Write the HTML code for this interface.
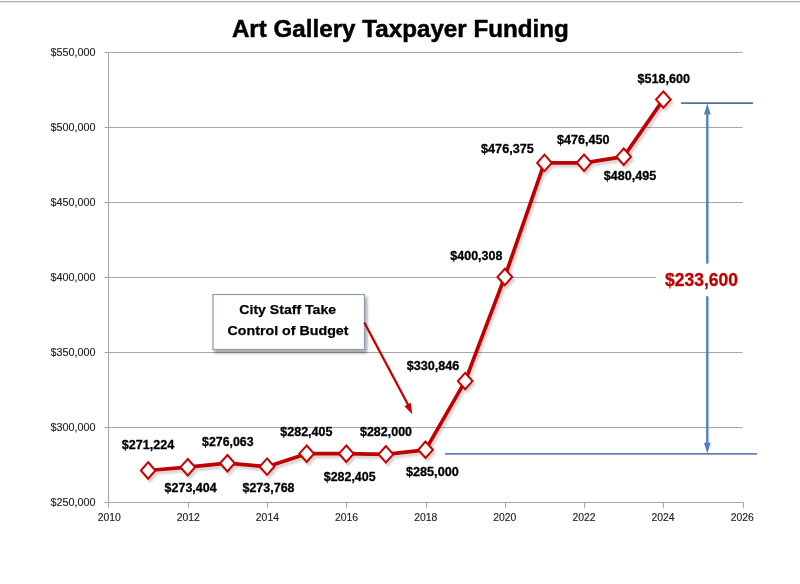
<!DOCTYPE html><html><head><meta charset="utf-8"><style>
html,body{margin:0;padding:0;background:#fff;width:800px;height:584px;overflow:hidden}
svg{display:block;font-family:"Liberation Sans",sans-serif}
</style></head><body>
<svg width="800" height="584" viewBox="0 0 800 584">
<defs><filter id="sh" x="-20%" y="-20%" width="140%" height="140%"><feGaussianBlur in="SourceAlpha" stdDeviation="1.3"/><feOffset dx="2" dy="2.5" result="b"/><feComponentTransfer><feFuncA type="linear" slope="0.17"/></feComponentTransfer><feMerge><feMergeNode/><feMergeNode in="SourceGraphic"/></feMerge></filter><filter id="bsh" x="-20%" y="-20%" width="140%" height="140%"><feGaussianBlur in="SourceAlpha" stdDeviation="1.5"/><feOffset dx="2" dy="2.5" result="b"/><feComponentTransfer><feFuncA type="linear" slope="0.38"/></feComponentTransfer><feMerge><feMergeNode/><feMergeNode in="SourceGraphic"/></feMerge></filter></defs>
<rect x="0" y="0" width="800" height="3" fill="#fff"/>
<rect x="0" y="1" width="800" height="1" fill="#b2b2b2"/><rect x="0" y="2" width="800" height="1" fill="#ececec"/>
<line x1="104.5" y1="502.5" x2="742.6" y2="502.5" stroke="#a6a6a6" stroke-width="1"/>
<text x="50.6" y="506.3" font-size="10.7" fill="#1e1e1e" stroke="#1e1e1e" stroke-width="0.15" opacity="0.995" textLength="44.9" lengthAdjust="spacingAndGlyphs">$250,000</text>
<line x1="104.5" y1="427.5" x2="742.6" y2="427.5" stroke="#a6a6a6" stroke-width="1"/>
<text x="50.6" y="431.3" font-size="10.7" fill="#1e1e1e" stroke="#1e1e1e" stroke-width="0.15" opacity="0.995" textLength="44.9" lengthAdjust="spacingAndGlyphs">$300,000</text>
<line x1="104.5" y1="352.5" x2="742.6" y2="352.5" stroke="#a6a6a6" stroke-width="1"/>
<text x="50.6" y="356.3" font-size="10.7" fill="#1e1e1e" stroke="#1e1e1e" stroke-width="0.15" opacity="0.995" textLength="44.9" lengthAdjust="spacingAndGlyphs">$350,000</text>
<line x1="104.5" y1="277.5" x2="742.6" y2="277.5" stroke="#a6a6a6" stroke-width="1"/>
<text x="50.6" y="281.3" font-size="10.7" fill="#1e1e1e" stroke="#1e1e1e" stroke-width="0.15" opacity="0.995" textLength="44.9" lengthAdjust="spacingAndGlyphs">$400,000</text>
<line x1="104.5" y1="202.5" x2="742.6" y2="202.5" stroke="#a6a6a6" stroke-width="1"/>
<text x="50.6" y="206.3" font-size="10.7" fill="#1e1e1e" stroke="#1e1e1e" stroke-width="0.15" opacity="0.995" textLength="44.9" lengthAdjust="spacingAndGlyphs">$450,000</text>
<line x1="104.5" y1="127.5" x2="742.6" y2="127.5" stroke="#a6a6a6" stroke-width="1"/>
<text x="50.6" y="131.3" font-size="10.7" fill="#1e1e1e" stroke="#1e1e1e" stroke-width="0.15" opacity="0.995" textLength="44.9" lengthAdjust="spacingAndGlyphs">$500,000</text>
<line x1="104.5" y1="52.5" x2="742.6" y2="52.5" stroke="#a6a6a6" stroke-width="1"/>
<text x="50.6" y="56.3" font-size="10.7" fill="#1e1e1e" stroke="#1e1e1e" stroke-width="0.15" opacity="0.995" textLength="44.9" lengthAdjust="spacingAndGlyphs">$550,000</text>
<line x1="108.5" y1="52.5" x2="108.5" y2="505.8" stroke="#a6a6a6" stroke-width="1"/>
<line x1="108.5" y1="502.3" x2="108.5" y2="507.8" stroke="#a6a6a6" stroke-width="1"/>
<text x="109.2" y="521.2" font-size="10.4" text-anchor="middle" fill="#1e1e1e" stroke="#1e1e1e" stroke-width="0.15" opacity="0.995">2010</text>
<line x1="188.5" y1="502.3" x2="188.5" y2="507.8" stroke="#a6a6a6" stroke-width="1"/>
<text x="188.3" y="521.2" font-size="10.4" text-anchor="middle" fill="#1e1e1e" stroke="#1e1e1e" stroke-width="0.15" opacity="0.995">2012</text>
<line x1="267.5" y1="502.3" x2="267.5" y2="507.8" stroke="#a6a6a6" stroke-width="1"/>
<text x="267.4" y="521.2" font-size="10.4" text-anchor="middle" fill="#1e1e1e" stroke="#1e1e1e" stroke-width="0.15" opacity="0.995">2014</text>
<line x1="346.5" y1="502.3" x2="346.5" y2="507.8" stroke="#a6a6a6" stroke-width="1"/>
<text x="346.6" y="521.2" font-size="10.4" text-anchor="middle" fill="#1e1e1e" stroke="#1e1e1e" stroke-width="0.15" opacity="0.995">2016</text>
<line x1="426.5" y1="502.3" x2="426.5" y2="507.8" stroke="#a6a6a6" stroke-width="1"/>
<text x="425.7" y="521.2" font-size="10.4" text-anchor="middle" fill="#1e1e1e" stroke="#1e1e1e" stroke-width="0.15" opacity="0.995">2018</text>
<line x1="505.5" y1="502.3" x2="505.5" y2="507.8" stroke="#a6a6a6" stroke-width="1"/>
<text x="504.8" y="521.2" font-size="10.4" text-anchor="middle" fill="#1e1e1e" stroke="#1e1e1e" stroke-width="0.15" opacity="0.995">2020</text>
<line x1="584.5" y1="502.3" x2="584.5" y2="507.8" stroke="#a6a6a6" stroke-width="1"/>
<text x="584.0" y="521.2" font-size="10.4" text-anchor="middle" fill="#1e1e1e" stroke="#1e1e1e" stroke-width="0.15" opacity="0.995">2022</text>
<line x1="663.5" y1="502.3" x2="663.5" y2="507.8" stroke="#a6a6a6" stroke-width="1"/>
<text x="663.1" y="521.2" font-size="10.4" text-anchor="middle" fill="#1e1e1e" stroke="#1e1e1e" stroke-width="0.15" opacity="0.995">2024</text>
<line x1="743.5" y1="502.3" x2="743.5" y2="507.8" stroke="#a6a6a6" stroke-width="1"/>
<text x="742.2" y="521.2" font-size="10.4" text-anchor="middle" fill="#1e1e1e" stroke="#1e1e1e" stroke-width="0.15" opacity="0.995">2026</text>
<line x1="681" y1="103.2" x2="753" y2="103.2" stroke="#52739c" stroke-width="1.7"/>
<line x1="445" y1="453.9" x2="757" y2="453.9" stroke="#6682b3" stroke-width="1.6"/>
<g stroke="#4f81bd" stroke-width="2.4" fill="none">
<line x1="707.3" y1="112" x2="707.3" y2="263.6"/>
<line x1="707.3" y1="296.3" x2="707.3" y2="444"/>
</g>
<path d="M707.3,103.6 L703.9,114.6 L710.7,114.6 Z" fill="#4f81bd"/>
<path d="M707.3,453.5 L703.9,442.8 L710.7,442.8 Z" fill="#4f81bd"/>
<rect x="656" y="264" width="92" height="32" fill="#fff"/>
<text x="665" y="286.1" font-size="17.5" font-weight="bold" fill="#c00000" stroke="#c00000" stroke-width="0.3" opacity="0.995" textLength="73" lengthAdjust="spacingAndGlyphs">$233,600</text>
<g filter="url(#bsh)"><rect x="213" y="294.5" width="151.5" height="55" fill="#fff" stroke="#8a9bb0" stroke-width="1.2"/></g>
<text x="239.3" y="313.9" font-size="13.4" font-weight="bold" fill="#000" stroke="#000" stroke-width="0.25" opacity="0.995" textLength="96.8" lengthAdjust="spacingAndGlyphs">City Staff Take</text>
<text x="227.5" y="334.5" font-size="13.4" font-weight="bold" fill="#000" stroke="#000" stroke-width="0.25" opacity="0.995" textLength="121" lengthAdjust="spacingAndGlyphs">Control of Budget</text>
<line x1="364.3" y1="322.5" x2="409" y2="406.5" stroke="#c40000" stroke-width="2.3"/>
<path d="M412.3,414.3 L404.4,406.2 L410.8,402.8 Z" fill="#c40000"/>
<g filter="url(#sh)">
<polyline points="148.1,470.5 187.8,467.2 227.4,463.2 267.0,466.7 306.7,453.7 346.3,453.7 385.9,454.3 425.6,449.8 465.2,381.1 504.8,276.9 544.4,162.9 584.1,162.8 623.7,156.7 663.3,99.6" fill="none" stroke="#c00000" stroke-width="3.7" stroke-linejoin="round"/>
<path d="M148.13,462.28 L155.43,470.48 L148.13,478.68 L140.83,470.48 Z" fill="#fff" stroke="#c80000" stroke-width="2.0" stroke-linejoin="miter" stroke-miterlimit="10"/>
<path d="M187.76,459.01 L195.06,467.21 L187.76,475.41 L180.46,467.21 Z" fill="#fff" stroke="#c80000" stroke-width="2.0" stroke-linejoin="miter" stroke-miterlimit="10"/>
<path d="M227.39,455.02 L234.69,463.22 L227.39,471.42 L220.09,463.22 Z" fill="#fff" stroke="#c80000" stroke-width="2.0" stroke-linejoin="miter" stroke-miterlimit="10"/>
<path d="M267.02,458.46 L274.32,466.66 L267.02,474.86 L259.72,466.66 Z" fill="#fff" stroke="#c80000" stroke-width="2.0" stroke-linejoin="miter" stroke-miterlimit="10"/>
<path d="M306.66,445.51 L313.96,453.71 L306.66,461.91 L299.36,453.71 Z" fill="#fff" stroke="#c80000" stroke-width="2.0" stroke-linejoin="miter" stroke-miterlimit="10"/>
<path d="M346.29,445.51 L353.59,453.71 L346.29,461.91 L338.99,453.71 Z" fill="#fff" stroke="#c80000" stroke-width="2.0" stroke-linejoin="miter" stroke-miterlimit="10"/>
<path d="M385.92,446.12 L393.22,454.32 L385.92,462.52 L378.62,454.32 Z" fill="#fff" stroke="#c80000" stroke-width="2.0" stroke-linejoin="miter" stroke-miterlimit="10"/>
<path d="M425.55,441.62 L432.85,449.82 L425.55,458.02 L418.25,449.82 Z" fill="#fff" stroke="#c80000" stroke-width="2.0" stroke-linejoin="miter" stroke-miterlimit="10"/>
<path d="M465.18,372.88 L472.48,381.08 L465.18,389.28 L457.88,381.08 Z" fill="#fff" stroke="#c80000" stroke-width="2.0" stroke-linejoin="miter" stroke-miterlimit="10"/>
<path d="M504.81,268.74 L512.11,276.94 L504.81,285.14 L497.51,276.94 Z" fill="#fff" stroke="#c80000" stroke-width="2.0" stroke-linejoin="miter" stroke-miterlimit="10"/>
<path d="M544.44,154.69 L551.74,162.89 L544.44,171.09 L537.14,162.89 Z" fill="#fff" stroke="#c80000" stroke-width="2.0" stroke-linejoin="miter" stroke-miterlimit="10"/>
<path d="M584.08,154.58 L591.38,162.78 L584.08,170.98 L576.78,162.78 Z" fill="#fff" stroke="#c80000" stroke-width="2.0" stroke-linejoin="miter" stroke-miterlimit="10"/>
<path d="M623.71,148.51 L631.01,156.71 L623.71,164.91 L616.41,156.71 Z" fill="#fff" stroke="#c80000" stroke-width="2.0" stroke-linejoin="miter" stroke-miterlimit="10"/>
<path d="M663.34,91.38 L670.64,99.58 L663.34,107.78 L656.04,99.58 Z" fill="#fff" stroke="#c80000" stroke-width="2.0" stroke-linejoin="miter" stroke-miterlimit="10"/>
</g>
<g opacity="0.995" fill="#000" stroke="#000" stroke-width="0.3">
<text x="121.8" y="449.4" font-size="12.6" font-weight="bold" textLength="52.5" lengthAdjust="spacingAndGlyphs">$271,224</text>
<text x="164.6" y="492.2" font-size="12.6" font-weight="bold" textLength="52.0" lengthAdjust="spacingAndGlyphs">$273,404</text>
<text x="202.1" y="446.3" font-size="12.6" font-weight="bold" textLength="51.4" lengthAdjust="spacingAndGlyphs">$276,063</text>
<text x="242.5" y="492.2" font-size="12.6" font-weight="bold" textLength="52.0" lengthAdjust="spacingAndGlyphs">$273,768</text>
<text x="280.3" y="436.3" font-size="12.6" font-weight="bold" textLength="52.1" lengthAdjust="spacingAndGlyphs">$282,405</text>
<text x="323.8" y="480.9" font-size="12.6" font-weight="bold" textLength="51.8" lengthAdjust="spacingAndGlyphs">$282,405</text>
<text x="360.0" y="436.3" font-size="12.6" font-weight="bold" textLength="52.0" lengthAdjust="spacingAndGlyphs">$282,000</text>
<text x="405.9" y="475.6" font-size="12.6" font-weight="bold" textLength="52.9" lengthAdjust="spacingAndGlyphs">$285,000</text>
<text x="406.7" y="370.3" font-size="12.6" font-weight="bold" textLength="52.7" lengthAdjust="spacingAndGlyphs">$330,846</text>
<text x="450.3" y="260.2" font-size="12.6" font-weight="bold" textLength="52.1" lengthAdjust="spacingAndGlyphs">$400,308</text>
<text x="481.1" y="153.4" font-size="12.6" font-weight="bold" textLength="52.6" lengthAdjust="spacingAndGlyphs">$476,375</text>
<text x="557.0" y="144.3" font-size="12.6" font-weight="bold" textLength="52.5" lengthAdjust="spacingAndGlyphs">$476,450</text>
<text x="603.8" y="180.0" font-size="12.6" font-weight="bold" textLength="52.5" lengthAdjust="spacingAndGlyphs">$480,495</text>
<text x="637.5" y="82.5" font-size="12.6" font-weight="bold" textLength="52.5" lengthAdjust="spacingAndGlyphs">$518,600</text>
</g>
<text x="231.9" y="36.9" font-size="24.4" font-weight="bold" fill="#000" stroke="#000" stroke-width="0.5" opacity="0.995" textLength="336.9" lengthAdjust="spacingAndGlyphs">Art Gallery Taxpayer Funding</text>
</svg></body></html>
